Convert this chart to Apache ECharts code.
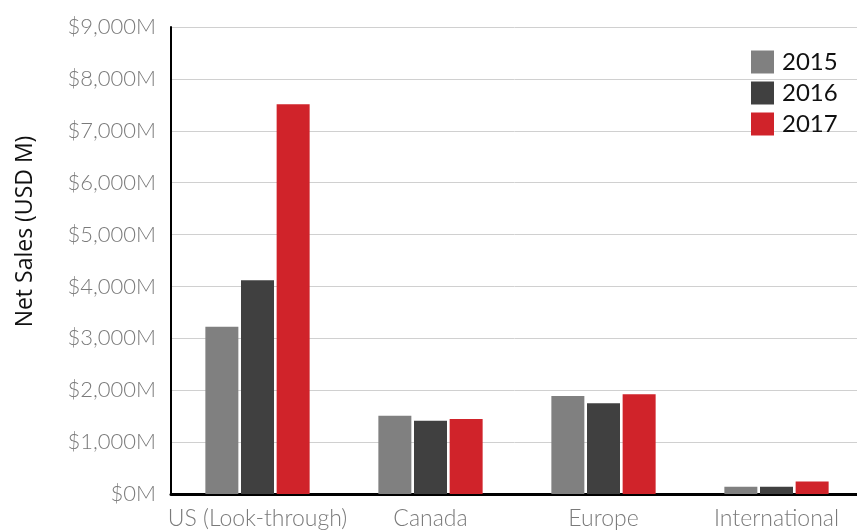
<!DOCTYPE html>
<html>
<head>
<meta charset="utf-8">
<script src="https://cdn.jsdelivr.net/npm/echarts@6/dist/echarts.min.js"></script>
<style>
  html, body { margin: 0; padding: 0; background: #fff; }
  #chart { width: 857px; height: 530px; }
</style>
</head>
<body>
<div id="chart"></div>
<script>
// Net sales by region, USD millions
const regions = ['US (Look-through)', 'Canada', 'Europe', 'International'];
const years = ['2015', '2016', '2017'];
const sales2015 = [3225, 1510, 1890, 140];
const sales2016 = [4120, 1410, 1750, 140];
const sales2017 = [7510, 1445, 1920, 240];
const yearColors = ['#808080', '#404040', '#d0232a'];

const seriesValues = [sales2015, sales2016, sales2017];

const chart = echarts.init(document.getElementById('chart'), null, { renderer: 'canvas' });

chart.setOption({
  animation: false,
  textStyle: { fontFamily: 'Lato' },
  // plot area runs slightly past the right edge of the canvas
  grid: {
    left: 171, width: 692, top: 27, bottom: 36,
    containLabel: false,
    outerBoundsMode: 'none'
  },
  legend: {
    orient: 'vertical',
    left: 751,
    top: 50,
    padding: 0,
    itemWidth: 23,
    itemHeight: 23,
    itemGap: 7,
    icon: 'rect',
    textStyle: { fontSize: 24, color: '#111', fontFamily: 'Lato', padding: [0, 0, 0, 3] },
    data: years
  },
  xAxis: {
    type: 'category',
    data: regions,
    axisLine: { show: true, lineStyle: { color: '#000', width: 3 } },
    axisTick: { show: false },
    axisLabel: { interval: 0, color: '#7a7a7a', fontSize: 23, fontWeight: 300, margin: 13 }
  },
  yAxis: {
    type: 'value',
    min: 0,
    max: 9000,
    interval: 1000,
    name: 'Net Sales (USD M)',
    nameLocation: 'middle',
    nameGap: 134,
    nameTextStyle: { color: '#111', fontSize: 23, fontFamily: 'Open Sans', padding: [0, 0, 0, 58] },
    axisLine: { show: true, lineStyle: { color: '#000', width: 2 } },
    axisTick: { show: false },
    splitLine: { lineStyle: { color: '#d0d0d0', width: 1 } },
    axisLabel: {
      color: '#7a7a7a',
      fontSize: 22,
      fontWeight: 300,
      margin: 15,
      formatter: v => '$' + v.toLocaleString('en-US') + 'M'
    }
  },
  series: years.map((y, i) => ({
    name: y,
    type: 'bar',
    data: seriesValues[i],
    barWidth: 33,
    barGap: '8%',
    itemStyle: { color: yearColors[i] }
  }))
});
</script>
</body>
</html>
